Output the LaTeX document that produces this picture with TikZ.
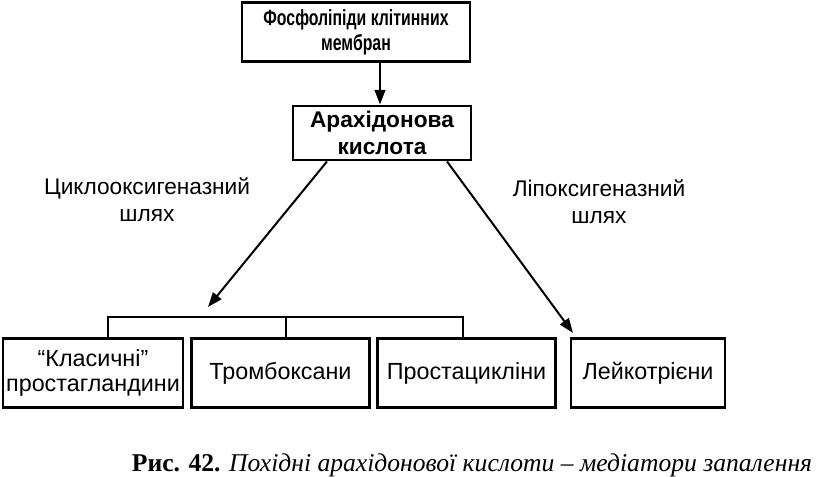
\documentclass[tikz,border=0pt]{standalone}
\usepackage{fontspec}
\setmainfont{Liberation Sans}
\newfontfamily\capfont{Liberation Serif}
\newfontfamily\narrowfont[FakeStretch=0.72]{Liberation Sans}
\usetikzlibrary{arrows.meta}

\tikzset{every picture/.style={line width=0.75pt}}
\tikzset{
  box/.style={draw, line width=2.2pt, align=center, inner sep=0.75pt,
    font=\fontsize{17.5}{18.5}\selectfont},
  lbl/.style={align=center, inner sep=0.75pt, font=\fontsize{17}{20}\selectfont},
  arr/.style={-{Triangle[length=11pt,width=8pt]}, line width=1.5pt}
}

\begin{document}
\begin{tikzpicture}[x=0.75pt,y=0.75pt,yscale=-1,xscale=1]
        \useasboundingbox (0,0) rectangle (829,477);

        % Boxes
        \node [box, minimum width=171pt, minimum height=44pt, font=\narrowfont\bfseries\fontsize{16.5}{18.5}\selectfont] (phos) at (356,32) {Фосфоліпіди клітинних\\мембран};
        \node [box, minimum width=133.5pt, minimum height=40.5pt, font=\fontsize{17}{20}\selectfont\bfseries] (arach) at (382,133) {Арахідонова\\кислота};
        \node [box, minimum width=135pt, minimum height=52pt] (pg) at (93,373) {``Класичні''\\простагландини};
        \node [box, minimum width=134pt, minimum height=52pt] (tx) at (280.5,373) {Тромбоксани};
        \node [box, minimum width=133pt, minimum height=52pt] (pc) at (466.5,373) {Простацикліни};
        \node [box, minimum width=115.5pt, minimum height=52pt] (lt) at (648,373) {Лейкотрієни};

        % Text Node
        \node [lbl] (cox) at (147,200) {Циклооксигеназний\\шлях};
        % Text Node
        \node [lbl] (lox) at (599,202) {Ліпоксигеназний\\шлях};

        % Arrows
        \coordinate (coxend) at (208,307);
        \coordinate (loxend) at (573,333);
        \draw [arr] (phos.south -| 380,0) -- (arach.north -| 380,0);
        \draw [arr] (arach.south -| 327,0) -- (coxend);
        \draw [arr] (arach.south -| 447,0) -- (loxend);

        % Bracket
        \draw [line width=1.5pt] (pg.north -| 108,0) -- (108,317) -- (463,317) -- (pc.north -| 463,0);
        \draw [line width=1.5pt] (286,317) -- (tx.north -| 286,0);

        % Caption
        \node [inner sep=0.75pt, font=\capfont\fontsize{19.2}{22}\selectfont] (cap) at (472,465) {\textbf{Рис. 42.} \textit{Похідні арахідонової кислоти – медіатори запалення}};

\end{tikzpicture}
\end{document}
